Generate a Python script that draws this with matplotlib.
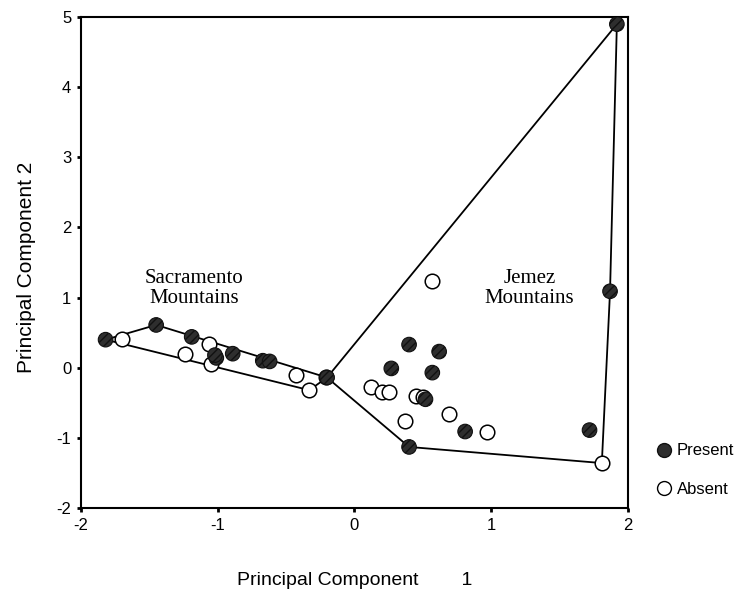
import numpy as np
import matplotlib
matplotlib.use("Agg")
import matplotlib.pyplot as plt
from matplotlib.lines import Line2D

# dados
present_x = [-1.82, -1.45, -1.19, -1.01, -0.89, -0.67, -0.62, -1.02,
             0.40, 0.62, 0.27, 0.57, 0.52, 0.81, 0.40,
             1.92, 1.87, 1.72, -0.20]
present_y = [0.40, 0.61, 0.44, 0.14, 0.20, 0.10, 0.09, 0.18,
             0.33, 0.23, -0.01, -0.07, -0.45, -0.91, -1.13,
             4.90, 1.09, -0.89, -0.14]

absent_x = [-1.70, -1.24, -1.06, -1.05, -0.43, -0.33, -0.21,
            0.57, 0.12, 0.20, 0.25, 0.45, 0.50, 0.37, 0.69, 0.97, 1.81]
absent_y = [0.41, 0.20, 0.34, 0.05, -0.11, -0.32, -0.13,
            1.24, -0.27, -0.35, -0.35, -0.40, -0.42, -0.76, -0.66, -0.91, -1.36]

# envoltorias convexas das duas regioes
sac_hull_x = [-1.82, -1.45, -0.20, -0.33, -1.82]
sac_hull_y = [0.40, 0.61, -0.14, -0.32, 0.40]
jem_hull_x = [-0.20, 1.92, 1.87, 1.81, 0.40, -0.20]
jem_hull_y = [-0.14, 4.90, 1.09, -1.36, -1.13, -0.14]

xticks = [-2, -1, 0, 1, 2]
yticks = [-2, -1, 0, 1, 2, 3, 4, 5]

plt.rcParams['font.family'] = ['Liberation Sans', 'DejaVu Sans']
plt.rcParams['axes.unicode_minus'] = False

fig = plt.figure(figsize=(7.36, 5.92), dpi=100)
ax = fig.add_axes([0.110, 0.142, 0.743, 0.829])

ax.plot(sac_hull_x, sac_hull_y, color='black', lw=1.3, zorder=1)
ax.plot(jem_hull_x, jem_hull_y, color='black', lw=1.3, zorder=1)

ax.scatter(absent_x, absent_y, s=110, facecolor='white', edgecolor='black',
           linewidth=1.1, zorder=2)
ax.scatter(present_x, present_y, s=110, facecolor='#2e2e2e', edgecolor='#111111',
           linewidth=0.8, hatch='////', zorder=3)

ax.text(-1.17, 1.13, "Sacramento\nMountains", family='Liberation Serif',
        fontsize=15, ha='center', va='center', linespacing=1.05)
ax.text(1.28, 1.13, "Jemez\nMountains", family='Liberation Serif',
        fontsize=15, ha='center', va='center', linespacing=1.05)

ax.set_xlim(-2, 2)
ax.set_ylim(-2, 5)
ax.set_xticks(xticks)
ax.set_yticks(yticks)
ax.tick_params(direction='out', length=3, width=2, labelsize=12, pad=4)
for sp in ax.spines.values():
    sp.set_linewidth(1.5)

ax.set_xlabel("Principal Component        1", fontsize=14, labelpad=28)
ax.set_ylabel("Principal Component 2", fontsize=15, labelpad=12)
ax.yaxis.set_label_coords(-0.082, 0.49)

handles = [
    Line2D([], [], ls='none', marker='o', ms=10, markerfacecolor='#2e2e2e',
           markeredgecolor='#111111'),
    Line2D([], [], ls='none', marker='o', ms=10, markerfacecolor='white',
           markeredgecolor='black'),
]
fig.legend(handles, ['Present', 'Absent'], loc='center left',
           bbox_to_anchor=(0.87, 0.206), frameon=False, fontsize=12,
           handletextpad=0.3, labelspacing=1.4, handlelength=1.0)

fig.savefig('out.png', dpi=100)
